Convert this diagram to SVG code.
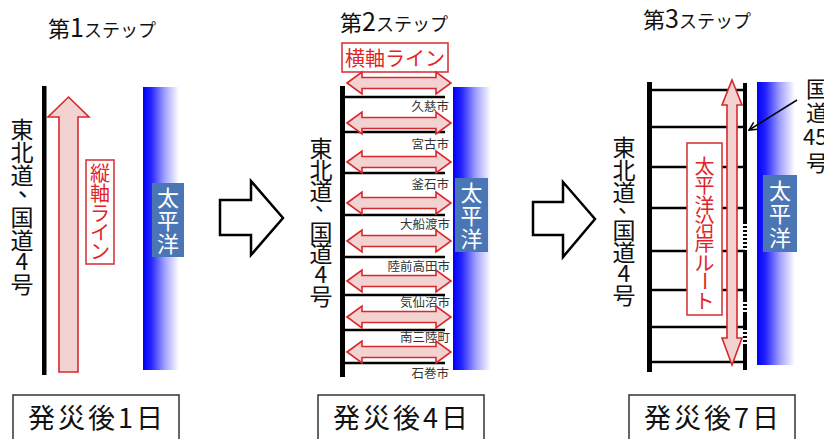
<svg xmlns="http://www.w3.org/2000/svg" xmlns:xlink="http://www.w3.org/1999/xlink" width="824" height="439" viewBox="0 0 824 439">
<style>
text{font-family:"Noto Sans CJK JP","Noto Sans",sans-serif;}
.t{fill:#111;}
.road{fill:#111;font-size:23px;text-anchor:middle;}
.red{fill:#e02428;}
.rv{fill:#e02428;font-size:20px;text-anchor:middle;}
.sea{fill:#fff;font-size:22px;text-anchor:middle;}
.town{fill:#333;font-size:12.5px;text-anchor:end;}
.day{fill:#111;font-size:27px;letter-spacing:3px;text-anchor:middle;}
.rbox{fill:#fff;stroke:#d8383c;stroke-width:1.6;}
.parrow{fill:#f3d2d2;stroke:#d9282c;stroke-width:1.6;stroke-linejoin:miter;}
.hollow{fill:#fff;stroke:#000;stroke-width:2.5;stroke-linejoin:miter;}
.hl{stroke:#000;stroke-width:2.6;}
.seabox{fill:#4a76b5;}
.daybox{fill:#fff;stroke:#333;stroke-width:1.5;}
</style>
<defs>
<linearGradient id="ocean" x1="0" y1="0" x2="1" y2="0">
<stop offset="0" stop-color="#0000f5"/>
<stop offset="0.22" stop-color="#2222ff"/>
<stop offset="0.6" stop-color="#a0a0ff"/>
<stop offset="1" stop-color="#ffffff"/>
</linearGradient>
<path id="harrow" d="M0,0 L15,-11 L15,-5.5 L89,-5.5 L89,-11 L104,0 L89,11 L89,5.5 L15,5.5 L15,11 Z"/>
<marker id="ptr" markerWidth="10" markerHeight="10" refX="9" refY="5" orient="auto" markerUnits="userSpaceOnUse">
<path d="M1,1 L9,5 L1,9" fill="none" stroke="#000" stroke-width="1.5"/>
</marker>
</defs>
<rect width="824" height="439" fill="#fff"/>

<!-- Step 1 -->
<g id="step1">
<text class="t" x="48" y="37"><tspan font-size="22">第</tspan><tspan font-size="25">1</tspan><tspan font-size="18">ステップ</tspan></text>
<rect x="42" y="86" width="4.5" height="289" fill="#000"/>
<g id="road1">
<text class="road" x="22" y="138" font-size="24">東</text>
<text class="road" x="22" y="161" font-size="24">北</text>
<text class="road" x="22" y="184" font-size="24">道</text>
<text class="t" x="18" y="196" font-size="24">、</text>
<text class="road" x="22" y="226" font-size="24">国</text>
<text class="road" x="22" y="249" font-size="24">道</text>
<text class="road" x="22" y="270" font-size="24">4</text>
<text class="road" x="22" y="293" font-size="24">号</text>
</g>
<path class="parrow" d="M68.5,97 L89,117 L78,117 L78,372 L59,372 L59,117 L48,117 Z"/>
<g id="label-tate">
<rect class="rbox" x="86" y="160" width="28" height="104"/>
<text class="rv" x="100" y="181">縦</text>
<text class="rv" x="100" y="201">軸</text>
<text class="rv" x="100" y="221">ラ</text>
<text class="rv" x="100" y="240">イ</text>
<text class="rv" x="100" y="259">ン</text>
</g>
<rect x="143" y="87" width="36" height="283" fill="url(#ocean)"/>
<g id="sea1">
<rect class="seabox" x="152" y="183" width="32" height="74"/>
<text class="sea" x="168" y="206">太</text>
<text class="sea" x="168" y="229">平</text>
<text class="sea" x="168" y="252">洋</text>
</g>
<g id="day1">
<rect class="daybox" x="13" y="395" width="166" height="50"/>
<text class="day" x="97" y="428">発災後1日</text>
</g>
</g>

<g id="connectors">
<path class="hollow" d="M220,200 L251,200 L251,181 L283,218 L251,255 L251,235 L220,235 Z"/>
<path class="hollow" d="M533,202 L563,202 L563,182 L595,219 L563,257 L563,235 L533,235 Z"/>
</g>

<!-- Step 2 -->
<g id="step2">
<text class="t" x="340" y="31"><tspan font-size="22">第</tspan><tspan font-size="25">2</tspan><tspan font-size="18">ステップ</tspan></text>
<g id="label-yoko">
<rect class="rbox" x="342" y="43" width="106" height="29"/>
<text class="red" x="395" y="66" font-size="20" text-anchor="middle">横軸ライン</text>
</g>
<rect x="340" y="86" width="5" height="291" fill="#000"/>
<rect x="453" y="87" width="38" height="283" fill="url(#ocean)"/>
<g id="road2">
<text class="road" x="321" y="157" font-size="22">東</text>
<text class="road" x="321" y="179" font-size="22">北</text>
<text class="road" x="321" y="200" font-size="22">道</text>
<text class="t" x="315" y="210" font-size="22">、</text>
<text class="road" x="321" y="241" font-size="22">国</text>
<text class="road" x="321" y="262" font-size="22">道</text>
<text class="road" x="321" y="283" font-size="22">4</text>
<text class="road" x="321" y="305" font-size="22">号</text>
</g>
<g id="lines2">
<line class="hl" x1="345" y1="97" x2="445" y2="97"/>
<line class="hl" x1="345" y1="132" x2="445" y2="132"/>
<line class="hl" x1="345" y1="173" x2="445" y2="173"/>
<line class="hl" x1="345" y1="215" x2="445" y2="215"/>
<line class="hl" x1="345" y1="257" x2="445" y2="257"/>
<line class="hl" x1="345" y1="295" x2="445" y2="295"/>
<line class="hl" x1="345" y1="330" x2="445" y2="330"/>
<line class="hl" x1="345" y1="363" x2="445" y2="363"/>
</g>
<g id="towns">
<text class="town" x="449" y="111">久慈市</text>
<text class="town" x="449" y="149">宮古市</text>
<text class="town" x="449" y="189">釜石市</text>
<text class="town" x="450" y="229">大船渡市</text>
<text class="town" x="450" y="271">陸前高田市</text>
<text class="town" x="450" y="307">気仙沼市</text>
<text class="town" x="450" y="342">南三陸町</text>
<text class="town" x="449" y="378">石巻市</text>
</g>
<g id="yoko-arrows">
<use href="#harrow" class="parrow" x="347" y="83"/>
<use href="#harrow" class="parrow" x="347" y="123"/>
<use href="#harrow" class="parrow" x="347" y="162"/>
<use href="#harrow" class="parrow" x="347" y="203"/>
<use href="#harrow" class="parrow" x="347" y="241"/>
<use href="#harrow" class="parrow" x="347" y="281"/>
<use href="#harrow" class="parrow" x="347" y="317"/>
<use href="#harrow" class="parrow" x="347" y="352"/>
</g>
<g id="sea2">
<rect class="seabox" x="455" y="178" width="33" height="74"/>
<text class="sea" x="471.5" y="201">太</text>
<text class="sea" x="471.5" y="224">平</text>
<text class="sea" x="471.5" y="247">洋</text>
</g>
<g id="day2">
<rect class="daybox" x="318" y="395" width="166" height="50"/>
<text class="day" x="402" y="428">発災後4日</text>
</g>
</g>

<!-- Step 3 -->
<g id="step3">
<text class="t" x="643" y="28"><tspan font-size="22">第</tspan><tspan font-size="25">3</tspan><tspan font-size="18">ステップ</tspan></text>
<rect x="757" y="82" width="38" height="283" fill="url(#ocean)"/>
<g id="road3">
<text class="road" x="624" y="156" font-size="22">東</text>
<text class="road" x="624" y="179" font-size="22">北</text>
<text class="road" x="624" y="201" font-size="22">道</text>
<text class="t" x="618" y="212" font-size="22">、</text>
<text class="road" x="624" y="239" font-size="22">国</text>
<text class="road" x="624" y="261" font-size="22">道</text>
<text class="road" x="624" y="282" font-size="22">4</text>
<text class="road" x="624" y="304" font-size="22">号</text>
</g>
<g id="lines3">
<line class="hl" x1="650" y1="90" x2="745" y2="90"/>
<line class="hl" x1="650" y1="127" x2="745" y2="127"/>
<line class="hl" x1="650" y1="167" x2="745" y2="167"/>
<line class="hl" x1="650" y1="208" x2="745" y2="208"/>
<line class="hl" x1="650" y1="251" x2="745" y2="251"/>
<line class="hl" x1="650" y1="290" x2="745" y2="290"/>
<line class="hl" x1="650" y1="327" x2="745" y2="327"/>
<line class="hl" x1="650" y1="362" x2="745" y2="362"/>
</g>
<rect x="647" y="82" width="5" height="290" fill="#000"/>
<g id="route45" stroke="#000" stroke-width="4">
<line x1="745" y1="83" x2="745" y2="222"/>
<line x1="745" y1="222" x2="745" y2="250" stroke-dasharray="2,2"/>
<line x1="745" y1="250" x2="745" y2="300"/>
<line x1="745" y1="300" x2="745" y2="313" stroke-dasharray="2,2"/>
<line x1="745" y1="313" x2="745" y2="328"/>
<line x1="745" y1="328" x2="745" y2="344" stroke-dasharray="2,2"/>
<line x1="745" y1="344" x2="745" y2="370"/>
</g>
<path class="parrow" d="M732,80 L742,105 L737,105 L737,338 L742,338 L732,365 L722,338 L727,338 L727,105 L722,105 Z"/>
<g id="label-coast">
<rect class="rbox" x="687" y="143" width="35" height="172"/>
<text class="rv" x="704.5" y="174">太</text>
<text class="rv" x="704.5" y="193">平</text>
<text class="rv" x="704.5" y="212.5">洋</text>
<text class="rv" x="704.5" y="232">沿</text>
<text class="rv" x="704.5" y="251">岸</text>
<text class="rv" x="704.5" y="270.5">ル</text>
<text class="rv" x="704.5" y="288.6" transform="rotate(90 704.5 281)">ー</text>
<text class="rv" x="704.5" y="309">ト</text>
</g>
<g id="sea3">
<rect class="seabox" x="763" y="175" width="34" height="77"/>
<text class="sea" x="780" y="199">太</text>
<text class="sea" x="780" y="222">平</text>
<text class="sea" x="780" y="246">洋</text>
</g>
<g id="label-r45">
<text class="t" x="806" y="97" font-size="22">国</text>
<text class="t" x="806" y="121" font-size="22">道</text>
<text class="t" x="803" y="145" font-size="22">45</text>
<text class="t" x="806" y="171" font-size="22">号</text>
</g>
<g id="day3">
<rect class="daybox" x="629" y="395" width="166" height="50"/>
<text class="day" x="713" y="428">発災後7日</text>
</g>
</g>

<g id="pointer">
<line x1="797" y1="100" x2="749" y2="130" stroke="#000" stroke-width="1.5" marker-end="url(#ptr)"/>
</g>
</svg>
